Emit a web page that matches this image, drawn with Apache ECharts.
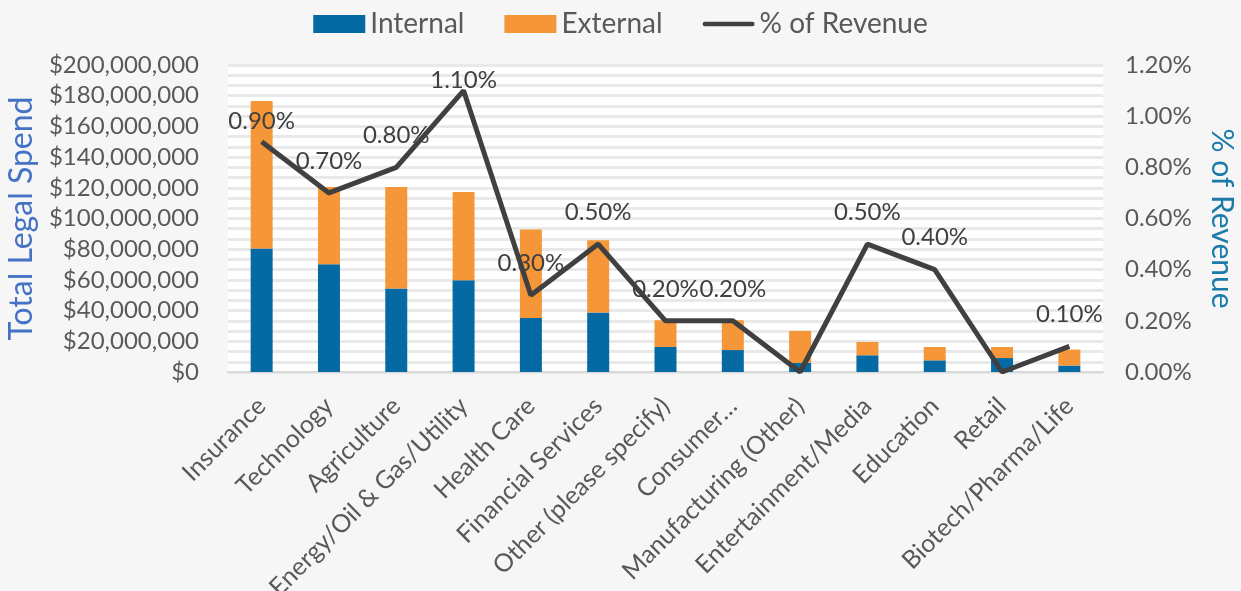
<!DOCTYPE html>
<html>
<head>
<meta charset="utf-8">
<script src="https://cdn.jsdelivr.net/npm/echarts@6/dist/echarts.min.js"></script>
<style>
html,body{margin:0;padding:0;background:#f6f6f6;}
#chart{width:1241px;height:591px;}
</style>
</head>
<body>
<div id="chart"></div>
<script>
const categories = ["Insurance","Technology","Agriculture","Energy/Oil & Gas/Utility","Health Care","Financial Services","Other (please specify)","Consumer…","Manufacturing (Other)","Entertainment/Media","Education","Retail","Biotech/Pharma/Life"];
const internalSpend = [80500000,70200000,54400000,59800000,35200000,38700000,16300000,14300000,5900000,10900000,7600000,9100000,4200000];
const externalSpend = [96000000,50400000,66200000,57400000,57600000,47200000,17400000,19400000,20800000,8700000,8700000,7200000,10400000];
const pctRevenue = [0.009,0.007,0.008,0.011,0.003,0.005,0.002,0.002,0,0.005,0.004,0,0.001];
const leftTicks = [0,20000000,40000000,60000000,80000000,100000000,120000000,140000000,160000000,180000000,200000000];
const rightTicks = [0,0.002,0.004,0.006,0.008,0.010,0.012];

const FONT = 'Lato, "Open Sans", sans-serif';
const labelShift = {0: [0, 12], 3: [0, 22]};

const chart = echarts.init(document.getElementById('chart'));
function money(v){ return '$' + Math.round(v).toLocaleString('en-US'); }

chart.setOption({
  backgroundColor: '#f6f6f6',
  textStyle: {fontFamily: FONT},
  legend: {
    top: 5, left: 'center', itemGap: 40, itemWidth: 52, itemHeight: 18,
    textStyle: {fontSize: 28, color: '#595959', fontFamily: FONT},
    data: [
      {name: 'Internal', icon: 'rect'},
      {name: 'External', icon: 'rect'},
      {name: '% of Revenue', icon: 'path://M2.5,0 L54.5,0 A2.5,2.5 0 0 1 54.5,5 L2.5,5 A2.5,2.5 0 0 1 2.5,0 Z'}
    ]
  },
  grid: {left: 228, right: 138, top: 65, bottom: 219, show: true, backgroundColor: '#ffffff', borderWidth: 0,
         containLabel: false, outerBoundsMode: 'none'},
  xAxis: {
    type: 'category', data: categories,
    axisLine: {lineStyle: {color: '#d9d9d9', width: 2}},
    axisTick: {show: false},
    axisLabel: {rotate: 45, interval: 0, fontSize: 25, color: '#595959', margin: 30, fontFamily: FONT}
  },
  yAxis: [
    {
      type: 'value', min: leftTicks[0], max: leftTicks[leftTicks.length-1], interval: leftTicks[1]-leftTicks[0],
      name: 'Total Legal Spend', nameLocation: 'middle', nameGap: 190, nameRotate: 90,
      nameTextStyle: {fontSize: 32, color: '#4472c4', fontFamily: FONT},
      axisLine: {show: false}, axisTick: {show: false},
      axisLabel: {fontSize: 24, color: '#595959', margin: 29, formatter: money, fontFamily: FONT},
      splitLine: {show: true, lineStyle: {color: '#e9e9e9', width: 3}},
      minorTick: {show: false, splitNumber: 3},
      minorSplitLine: {show: true, lineStyle: {color: '#e9e9e9', width: 3}}
    },
    {
      type: 'value', min: rightTicks[0], max: rightTicks[rightTicks.length-1], interval: rightTicks[1]-rightTicks[0],
      name: '% of Revenue', nameLocation: 'middle', nameGap: 104, nameRotate: -90,
      nameTextStyle: {fontSize: 30, color: '#1a7aa8', fontFamily: FONT},
      axisLine: {show: false}, axisTick: {show: false},
      axisLabel: {fontSize: 24, color: '#595959', margin: 22, formatter: v => (v*100).toFixed(2) + '%', fontFamily: FONT},
      splitLine: {show: false}
    }
  ],
  series: [
    {name: 'Internal', type: 'bar', stack: 'spend', data: internalSpend, barWidth: 22,
     itemStyle: {color: '#0569a3'}},
    {name: 'External', type: 'bar', stack: 'spend', data: externalSpend, barWidth: 22,
     itemStyle: {color: '#f59638'}},
    {name: '% of Revenue', type: 'line', yAxisIndex: 1, symbol: 'circle', symbolSize: 0.1, showSymbol: true, z: 5,
     lineStyle: {color: '#404040', width: 5}, itemStyle: {color: '#404040'},
     data: pctRevenue.map((v, i) => {
       const item = {value: v};
       if (labelShift[i]) item.label = {offset: labelShift[i]};
       return item;
     }),
     label: {
       show: true, position: 'top', distance: 20, fontSize: 24, color: '#404040', fontFamily: FONT,
       formatter: p => p.value === 0 ? '' : (p.value*100).toFixed(2) + '%'
     }
    }
  ]
});
</script>
</body>
</html>
